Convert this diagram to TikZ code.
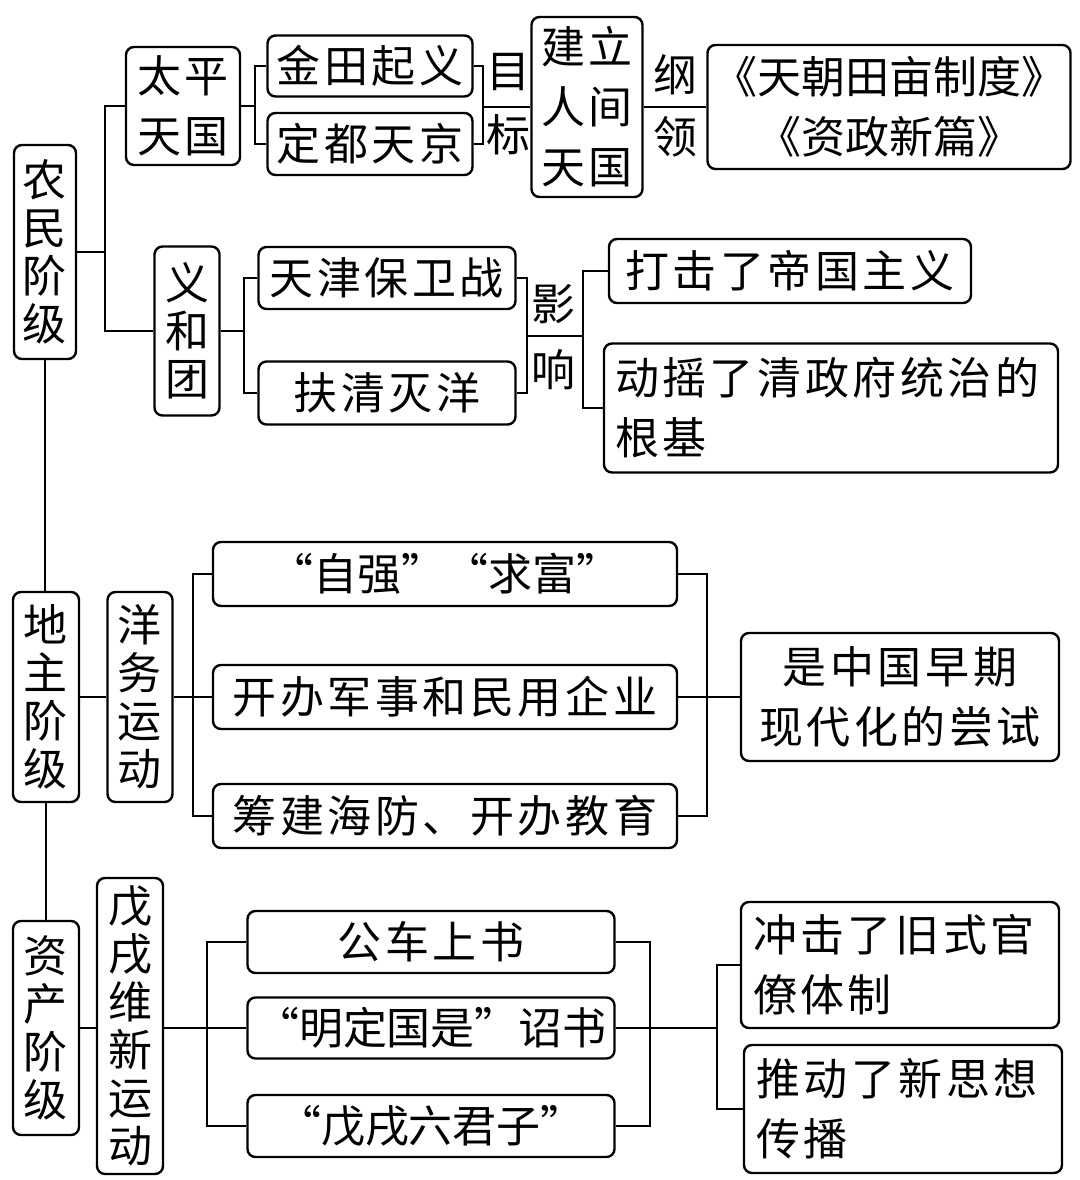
\documentclass[tikz,border=0pt]{standalone}
\usepackage{fontspec}
\newfontfamily\cjk{Noto Sans CJK SC}
\newfontfamily\cjkw[LetterSpace=8]{Noto Sans CJK SC}
\usetikzlibrary{positioning,calc}

\tikzset{
    box/.style={draw, line width=1.2pt, rounded corners=4pt,
        inner sep=0pt, align=center,
        font=\cjkw\fontsize{22}{24}\selectfont},
    tall/.style={font=\cjkw\fontsize{22}{30}\selectfont},
    plain/.style={font=\cjk\fontsize{22}{30}\selectfont},
    sz/.style 2 args={minimum width=#1*0.5pt, minimum height=#2*0.5pt},
    para/.style={text width=#1*0.5pt, align=left},
    lbl/.style={inner sep=0pt, font=\cjk\fontsize{22}{24}\selectfont},
    wire/.style={line width=1pt}
}

\begin{document}
\begin{tikzpicture}[x=0.5pt, y=-0.5pt]

        % picture frame, in pixels of the reference
        \useasboundingbox (0,0) rectangle (1080,1180);

        % peasant class
        \node[box, sz={62}{214}] (nm) at (45,252) {农\\民\\阶\\级};
        \node[box, tall, sz={114}{118}] (tp) at (183,106) {太平\\天国};
        \node[box, sz={205}{61}] (jt) at (370,66) {金田起义};
        \node[box, sz={205}{62}] (dd) at (370,144) {定都天京};
        \node[lbl] (mu) at (508,72) {目};
        \node[lbl] (biao) at (508,135) {标};
        \node[box, tall, sz={111}{180}] (jl) at (587,107) {建立\\人间\\天国};
        \node[lbl] (gang) at (675,75) {纲};
        \node[lbl] (ling) at (675,137) {领};
        \node[box, plain, sz={363}{124}] (gl) at (889,107)
            {《天朝田亩制度》\\《资政新篇》};

        \node[box, sz={65}{169}] (yh) at (187,331) {义\\和\\团};
        \node[box, sz={257}{62}] (tj) at (387,278) {天津保卫战};
        \node[box, sz={257}{63}] (fq) at (387,393) {扶清灭洋};
        \node[lbl] (ying) at (553,304) {影};
        \node[lbl] (xiang) at (553,370) {响};
        \node[box, sz={362}{64}] (dj) at (790,271) {打击了帝国主义};
        \node[box, tall, sz={454}{129}, para=432] (dy) at (831,408)
            {动摇了清政府统治的\\根基};

        % landlord class
        \node[box, sz={66}{210}] (dz) at (46,697) {地\\主\\阶\\级};
        \node[box, sz={65}{210}] (ys) at (140,697) {洋\\务\\运\\动};
        \node[box, plain, sz={464}{64}] (zq) at (445,574) {“自强”“求富”};
        \node[box, sz={464}{64}] (kb) at (445,697) {开办军事和民用企业};
        \node[box, sz={464}{64}] (cj) at (445,816) {筹建海防、开办教育};
        \node[box, tall, sz={318}{128}] (cs) at (900,697)
            {是中国早期\\现代化的尝试};

        % bourgeois class
        \node[box, sz={66}{214}] (zc) at (46,1028) {资\\产\\阶\\级};
        \node[box, sz={66}{296}] (wx) at (130,1026) {戊\\戌\\维\\新\\运\\动};
        \node[box, sz={367}{62}] (gc) at (431,942) {公车上书};
        \node[box, plain, sz={367}{61}] (mg) at (431,1028) {“明定国是”诏书};
        \node[box, plain, sz={367}{62}] (lj) at (431,1126) {“戊戌六君子”};
        \node[box, tall, sz={318}{126}, para=294] (ch) at (900,965)
            {冲击了旧式官\\僚体制};
        \node[box, tall, sz={318}{128}, para=294] (td) at (903,1109)
            {推动了新思想\\传播};

        % bus points
        \coordinate (b1) at (105,252);
        \coordinate (b2) at (255,106);
        \coordinate (b3) at (483,107);
        \coordinate (b4) at (244,331);
        \coordinate (b5) at (527,336);
        \coordinate (b6) at (583,336);
        \coordinate (b7) at (193,697);
        \coordinate (b8) at (707,697);
        \coordinate (b9) at (207,1028);
        \coordinate (b10) at (650,1028);
        \coordinate (b11) at (717,1028);

        \begin{scope}[wire]
            \draw (nm.south) -- (nm.south |- dz.north);
            \draw (dz.south) -- (dz.south |- zc.north);

            \draw (nm.east) -- (b1);
            \draw (tp.west) -| (b1) |- (yh.west);
            \draw (tp.east) -- (b2);
            \draw (jt.west) -| (b2) |- (dd.west);
            \draw (jt.east) -| (b3) |- (dd.east);
            \draw (b3) -- (jl.west);
            \draw (jl.east) -- (gl.west);
            \draw (yh.east) -- (b4);
            \draw (tj.west) -| (b4) |- (fq.west);
            \draw (tj.east) -| (b5) |- (fq.east);
            \draw (b5) -- (b6);
            \draw (dj.west) -| (b6) |- (dy.west);

            \draw (dz.east) -- (ys.west);
            \draw (ys.east) -- (kb.west);
            \draw (zq.west) -| (b7) |- (cj.west);
            \draw (zq.east) -| (b8) |- (cj.east);
            \draw (kb.east) -- (cs.west);

            \draw (zc.east |- mg.west) -- (wx.west |- mg.west);
            \draw (wx.east |- mg.west) -- (mg.west);
            \draw (gc.west) -| (b9) |- (lj.west);
            \draw (gc.east) -| (b10) |- (lj.east);
            \draw (mg.east) -- (b11);
            \draw (ch.west) -| (b11) |- (td.west);
        \end{scope}

\end{tikzpicture}
\end{document}
